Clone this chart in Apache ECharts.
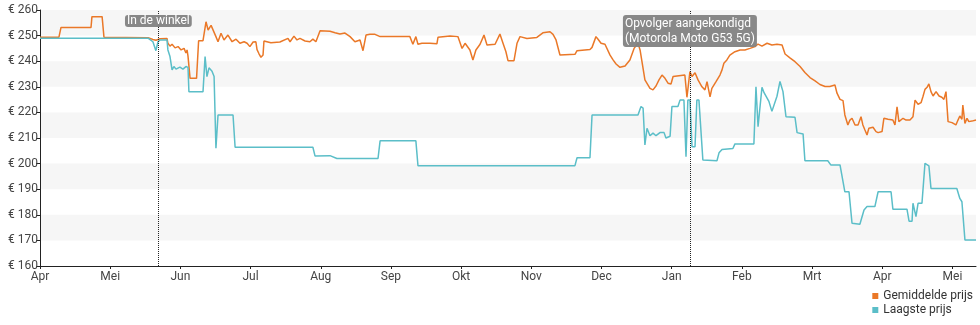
<!DOCTYPE html>
<html>
<head>
<meta charset="utf-8">
<script src="https://cdn.jsdelivr.net/npm/echarts@6/dist/echarts.min.js"></script>
<style>html,body{margin:0;padding:0;background:#fff}#c{width:980px;height:325px}</style>
</head>
<body>
<div id="c"></div>
<script>
// x = day index since 1 Apr 2022 (months drawn as equal 30.4-day steps)
const monthLabels = ['Apr','Mei','Jun','Jul','Aug','Sep','Okt','Nov','Dec','Jan','Feb','Mrt','Apr','Mei'];
const yTicks = [160,170,180,190,200,210,220,230,240,250,260];

const avgPrice = [
[0,249.4],[8.2,249.4],[9.1,253.2],[22.1,253.2],[22.5,257.4],[26.9,257.4],[27.7,249.4],[46.8,249.2],[48.9,248.5],[50.2,248.2],[52,248.8],[55,248.9],
[55.4,247],[56.3,245.9],[57.2,246.6],[58.5,245.2],[59.8,245.7],[61.1,244.4],[62.4,245],[63.2,243.2],[63.7,244.4],[64.1,242],
[65,233.3],[67.8,233.3],[68.7,248],[70.6,248],[71.9,255.4],[72.8,252.2],[74.1,254],[76.2,249.6],[77.1,247.6],[78.4,250.9],[79.7,248.3],[81.4,250.2],
[83.2,247.6],[84.9,248.6],[86.6,247],[88.4,247.6],[89.7,247],[90.9,245.7],[92.3,247.5],[93.5,247.6],[94,244.5],[94.8,243],[95.7,241.5],[96.6,242.4],
[97,247.9],[100,247.2],[103.9,247.5],[107.4,248.9],[108.3,247.6],[110,249.8],[111.3,248.3],[112.6,248.9],[114.8,247.9],[116.9,247.6],[118.2,248.6],[119.5,247.6],
[121.3,251.9],[125.6,251.7],[127.8,251.1],[129.9,250.6],[132.1,251],[134.3,249.6],[136.4,247.6],[138.6,248.3],[139.9,244.1],[141.2,250.2],[142.9,250.5],[145.1,250.5],[147.3,249.6],
[160.2,249.6],[161.5,246.6],[162.8,249.6],[163.7,246.6],[165.4,247],[168.9,247],[171.9,246.8],[172.4,249.4],[177.6,249.8],[181,249.6],[182.8,245],[184.1,247],
[186.2,244.4],[187.5,240.5],[188.8,244.4],[190.6,246.6],[192.3,250.2],[193.6,246.3],[197.1,246.6],[199.2,250.6],[200.5,247.1],[201.8,243.7],[202.7,240.2],[205.3,240.2],
[206.6,247],[207.9,249.6],[210.9,248.9],[215.2,249.3],[217.8,251.1],[220.9,251.5],[222.2,250.5],[223.5,248.3],[225.2,242.4],[231.7,242.7],[232.6,244.1],[238.2,244.6],
[239.1,245.4],[239.9,245.7],[240.8,249.6],[241.7,248.6],[243,247],[244.7,246.6],[246.9,242.4],[248.2,240.5],[249.5,238.9],[251.2,237.6],[253.4,238.1],[255.5,240.5],
[257.3,245],[259,247],[259.9,244.4],[261.2,237.2],[262,232.7],[264.2,229.4],[265.5,228.8],[266.8,230.3],[268.1,232.7],[269.4,234.6],[270.7,233.3],[272,231.4],
[273.3,231.1],[274.2,234],[275,234.6],[279.3,234.6],[280.2,225.9],[281.5,235.9],[282.4,234],[283.7,235.5],[285,232.7],[285.8,233.3],[286.7,230],[288,228.8],
[288.9,232],[290.2,226.1],[291,229.4],[292.8,232],[294.5,234.6],[295.4,236.6],[296.2,239.2],[297.5,240.5],[298.8,242.4],[301,243.7],[303.2,244.4],[305.3,244.4],
[307.5,245],[309.7,245.7],[311,246.7],[312.7,245.9],[314.9,247],[317,246.3],[319.2,246.6],[321.4,246.3],[322.7,242.8],[324.8,241.3],[327,239.8],[329.2,237.9],
[331.3,235.6],[333.5,233.6],[335.7,232.3],[337.8,230.9],[340,230.1],[342.1,230.1],[344.3,230.7],[345.2,227.5],[346.5,225.1],[347.8,224.6],[348.6,219],[349.9,215.1],
[350.8,217],[351.7,217.7],[353,215.1],[354.3,215.1],[355.6,218.3],[356.4,215.1],[357.3,213.1],[358.2,211.2],[359,213.8],[360.8,214.2],[362.1,212.5],[363,212.1],
[364.7,212.5],[365.5,217.7],[367.3,217.3],[369.4,217],[370.3,215.1],[371.2,222.2],[372,216.4],[373.8,217.7],[375.1,217],[376.8,217],[378.1,218.3],[379,224.8],
[380.3,223.2],[381.6,223.8],[382.4,226.1],[383.3,229],[384.2,229.8],[385,231.1],[385.9,228.1],[386.8,226.4],[388.1,228.1],[389.4,226.4],[390.6,225.9],[391.5,225.1],
[392.4,228.1],[393.3,216.4],[395,216],[396.7,215.1],[397.6,217],[398.4,218.6],[399.3,217.3],[399.7,222.9],[400.6,215.7],[401.5,217.7],[402.3,216.4],[403.6,216.6],[405.4,217]
];

const lowPrice = [
[0,249],[46.8,249],[48.9,247.6],[50.2,244.1],[51.1,247.6],[52,248.3],[55,248.3],[55.4,244.4],[56.3,241.8],[57.2,236.6],[58,237.9],[58.9,236.9],[60.6,237.7],
[61.9,236.9],[63.2,237.9],[64.1,237.6],[64.5,228.1],[70.6,228.1],[71.5,241.8],[72.3,234],[73.2,237.4],[74.5,236.1],[75.4,234],[76.2,206],[77.1,219],[83.6,219],
[84.5,206.4],[118.2,206.4],[119.1,203],[125.6,203.1],[128.6,202],[146.4,202],[147.3,208.9],[162.8,208.9],[163.7,199.2],[231.7,199.2],[232.6,202.3],[238.2,202.3],
[239.1,219],[259,219],[260.3,222.3],[261.2,221.7],[262,207.3],[262.9,213.8],[264.2,210.9],[265.5,211.9],[266.8,210.9],[268.5,212.1],[270.3,212.1],[271.1,210],
[272.9,210.7],[273.7,222.3],[276.3,222.3],[277.2,224.8],[278.9,224.8],[279.8,202.7],[280.6,224.8],[281.5,224.8],[282.4,206.6],[283.7,206.6],[284.5,224.8],[285.4,224.8],
[287.1,201.4],[293.2,201.1],[294.1,204.2],[295.4,205.5],[300.1,205.9],[301,207.7],[309.2,207.7],[310.1,230],[311,214.4],[311.8,214.3],[312.7,229.8],[313.6,227.7],
[314.4,228.1],[315.7,224.3],[317,220.4],[319.2,226.3],[320.5,232.1],[321.8,228.1],[323.1,218.3],[327,218.1],[327.9,212.1],[330.5,211.6],[331.3,201.1],[341.2,201.1],
[342.5,199.5],[346.5,199.5],[348.6,189],[350.4,189],[351.7,176.7],[355.1,176.3],[356.9,181.9],[358.2,183.2],[361.6,183.2],[363,189],[368.6,189],[369.4,182.2],
[375.5,182.2],[376.4,177.5],[377.7,177.5],[378.1,184.5],[379.4,179.3],[380.3,184.5],[382,184.5],[383.3,200.1],[385,199.1],[385.9,190.3],[397.1,190.3],[398.4,186.4],
[399.3,185.1],[400.6,170.2],[405.4,170.2]
];

const events = [
  {day: 51.1, text: 'In de winkel'},
  {day: 281.5, text: 'Opvolger aangekondigd\n(Motorola Moto G53 5G)'}
];

const seriesNames = ['Gemiddelde prijs', 'Laagste prijs'];
const monthStep = 30.4;
const xMax = 405.4;
const monthTicks = monthLabels.map((_, i) => +(i * monthStep).toFixed(2));

const chart = echarts.init(document.getElementById('c'), null, {renderer: 'canvas'});
chart.setOption({
  animation: false,
  textStyle: {fontFamily: 'Roboto', color: '#333'},
  grid: {left: 40, right: 4, top: 10, bottom: 59, containLabel: false},
  legend: {
    orient: 'vertical', right: 7, top: 290, align: 'left', itemGap: 2,
    itemWidth: 6, itemHeight: 6, icon: 'rect', padding: 0,
    textStyle: {fontSize: 12, color: '#333', fontFamily: 'Roboto'},
    data: seriesNames
  },
  xAxis: {
    type: 'value', min: 0, max: xMax,
    axisLine: {show: true, lineStyle: {color: '#222', width: 1}},
    axisTick: {show: true, length: 3, customValues: monthTicks, lineStyle: {color: '#222'}},
    axisLabel: {
      customValues: monthTicks, margin: 5, fontSize: 12, color: '#444',
      formatter: v => monthLabels[Math.round(v / monthStep)] || ''
    },
    splitLine: {show: false}
  },
  yAxis: {
    type: 'value', min: yTicks[0], max: yTicks[yTicks.length - 1], interval: 10,
    axisLine: {show: true, lineStyle: {color: '#222', width: 1}},
    axisTick: {show: true, length: 4, lineStyle: {color: '#222'}},
    axisLabel: {margin: 2, fontSize: 12, color: '#444', formatter: v => '€ ' + v},
    splitLine: {show: false},
    splitArea: {show: true, areaStyle: {color: ['rgba(255,255,255,0)', '#f6f6f6']}}
  },
  series: [
    {
      name: seriesNames[0], type: 'line', data: avgPrice, showSymbol: false,
      color: '#ea7828', lineStyle: {width: 1.5, color: '#ea7828'},
      markLine: {
        silent: true, symbol: ['none', 'none'],
        lineStyle: {type: 'dotted', color: '#222', width: 1},
        label: {show: false},
        data: events.map(e => ({xAxis: e.day}))
      },
      markPoint: {
        silent: true, symbol: 'rect', symbolSize: 0,
        label: {
          show: true, position: 'bottom', distance: 5, color: '#fff', fontSize: 12,
          backgroundColor: 'rgba(130,130,130,0.95)', borderRadius: 3, padding: [1, 2],
          align: 'left', formatter: p => p.name
        },
        data: events.map((e, i) => ({
          name: e.text, coord: [e.day, yTicks[yTicks.length - 1]],
          label: i === 0
            ? {lineHeight: 12, padding: [0, 2], offset: [-33, 0]}
            : {lineHeight: 15, padding: [1, 2], offset: [-67, 0]}
        }))
      },
      z: 2
    },
    {
      name: seriesNames[1], type: 'line', data: lowPrice, showSymbol: false,
      color: '#5bbec8', lineStyle: {width: 1.5, color: '#5bbec8'},
      z: 3
    }
  ]
});
</script>
</body>
</html>
